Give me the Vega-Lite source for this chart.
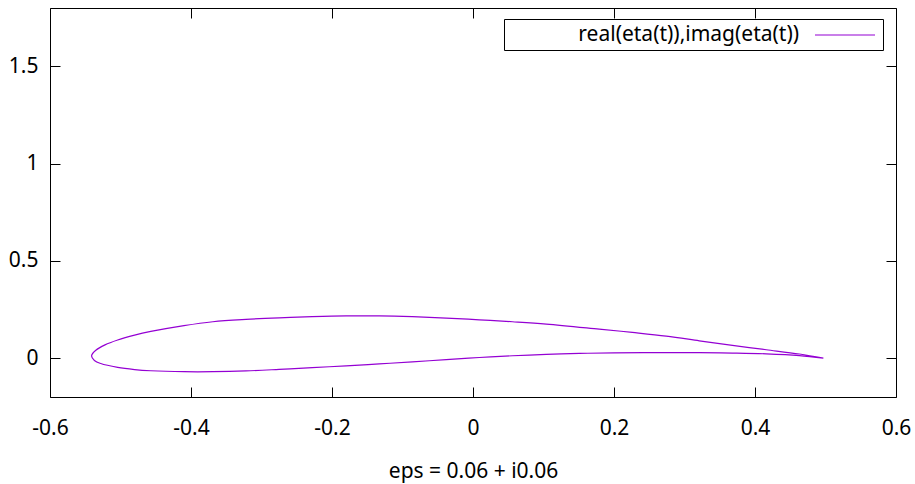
{
  "$schema": "https://vega.github.io/schema/vega-lite/v6.json",
  "width": 846,
  "height": 389,
  "autosize": {"type": "none"},
  "padding": {"left": 50, "top": 8, "right": 19, "bottom": 87},
  "background": "white",
  "config": {
    "view": {"stroke": "black", "strokeWidth": 1},
    "font": "Noto Sans",
    "axis": {"grid": false, "domain": false, "tickColor": "black", "tickWidth": 1, "labelFlush": false,
             "labelFont": "Noto Sans", "labelFontSize": 21, "labelColor": "black",
             "titleFont": "Noto Sans", "titleFontSize": 21, "titleFontWeight": "normal", "titleColor": "black"}
  },
  "data": {"values": [
    {"i": 0, "x": 0.497, "y": 0.0, "s": "real(eta(t)),imag(eta(t))"},
    {"i": 1, "x": 0.463, "y": 0.021, "s": "real(eta(t)),imag(eta(t))"},
    {"i": 2, "x": 0.416, "y": 0.043, "s": "real(eta(t)),imag(eta(t))"},
    {"i": 3, "x": 0.368, "y": 0.065, "s": "real(eta(t)),imag(eta(t))"},
    {"i": 4, "x": 0.321, "y": 0.089, "s": "real(eta(t)),imag(eta(t))"},
    {"i": 5, "x": 0.274, "y": 0.113, "s": "real(eta(t)),imag(eta(t))"},
    {"i": 6, "x": 0.226, "y": 0.132, "s": "real(eta(t)),imag(eta(t))"},
    {"i": 7, "x": 0.179, "y": 0.149, "s": "real(eta(t)),imag(eta(t))"},
    {"i": 8, "x": 0.104, "y": 0.175, "s": "real(eta(t)),imag(eta(t))"},
    {"i": 9, "x": 0.056, "y": 0.187, "s": "real(eta(t)),imag(eta(t))"},
    {"i": 10, "x": 0.009, "y": 0.197, "s": "real(eta(t)),imag(eta(t))"},
    {"i": 11, "x": -0.038, "y": 0.206, "s": "real(eta(t)),imag(eta(t))"},
    {"i": 12, "x": -0.086, "y": 0.213, "s": "real(eta(t)),imag(eta(t))"},
    {"i": 13, "x": -0.133, "y": 0.217, "s": "real(eta(t)),imag(eta(t))"},
    {"i": 14, "x": -0.180, "y": 0.217, "s": "real(eta(t)),imag(eta(t))"},
    {"i": 15, "x": -0.228, "y": 0.213, "s": "real(eta(t)),imag(eta(t))"},
    {"i": 16, "x": -0.275, "y": 0.207, "s": "real(eta(t)),imag(eta(t))"},
    {"i": 17, "x": -0.322, "y": 0.199, "s": "real(eta(t)),imag(eta(t))"},
    {"i": 18, "x": -0.369, "y": 0.187, "s": "real(eta(t)),imag(eta(t))"},
    {"i": 19, "x": -0.410, "y": 0.167, "s": "real(eta(t)),imag(eta(t))"},
    {"i": 20, "x": -0.457, "y": 0.137, "s": "real(eta(t)),imag(eta(t))"},
    {"i": 21, "x": -0.480, "y": 0.118, "s": "real(eta(t)),imag(eta(t))"},
    {"i": 22, "x": -0.504, "y": 0.093, "s": "real(eta(t)),imag(eta(t))"},
    {"i": 23, "x": -0.522, "y": 0.068, "s": "real(eta(t)),imag(eta(t))"},
    {"i": 24, "x": -0.535, "y": 0.040, "s": "real(eta(t)),imag(eta(t))"},
    {"i": 25, "x": -0.541, "y": 0.012, "s": "real(eta(t)),imag(eta(t))"},
    {"i": 26, "x": -0.537, "y": -0.012, "s": "real(eta(t)),imag(eta(t))"},
    {"i": 27, "x": -0.528, "y": -0.028, "s": "real(eta(t)),imag(eta(t))"},
    {"i": 28, "x": -0.504, "y": -0.048, "s": "real(eta(t)),imag(eta(t))"},
    {"i": 29, "x": -0.480, "y": -0.059, "s": "real(eta(t)),imag(eta(t))"},
    {"i": 30, "x": -0.457, "y": -0.065, "s": "real(eta(t)),imag(eta(t))"},
    {"i": 31, "x": -0.410, "y": -0.070, "s": "real(eta(t)),imag(eta(t))"},
    {"i": 32, "x": -0.369, "y": -0.070, "s": "real(eta(t)),imag(eta(t))"},
    {"i": 33, "x": -0.322, "y": -0.066, "s": "real(eta(t)),imag(eta(t))"},
    {"i": 34, "x": -0.275, "y": -0.058, "s": "real(eta(t)),imag(eta(t))"},
    {"i": 35, "x": -0.228, "y": -0.049, "s": "real(eta(t)),imag(eta(t))"},
    {"i": 36, "x": -0.180, "y": -0.040, "s": "real(eta(t)),imag(eta(t))"},
    {"i": 37, "x": -0.133, "y": -0.030, "s": "real(eta(t)),imag(eta(t))"},
    {"i": 38, "x": -0.086, "y": -0.019, "s": "real(eta(t)),imag(eta(t))"},
    {"i": 39, "x": -0.038, "y": -0.008, "s": "real(eta(t)),imag(eta(t))"},
    {"i": 40, "x": 0.009, "y": 0.003, "s": "real(eta(t)),imag(eta(t))"},
    {"i": 41, "x": 0.056, "y": 0.012, "s": "real(eta(t)),imag(eta(t))"},
    {"i": 42, "x": 0.104, "y": 0.019, "s": "real(eta(t)),imag(eta(t))"},
    {"i": 43, "x": 0.151, "y": 0.024, "s": "real(eta(t)),imag(eta(t))"},
    {"i": 44, "x": 0.200, "y": 0.027, "s": "real(eta(t)),imag(eta(t))"},
    {"i": 45, "x": 0.260, "y": 0.028, "s": "real(eta(t)),imag(eta(t))"},
    {"i": 46, "x": 0.321, "y": 0.028, "s": "real(eta(t)),imag(eta(t))"},
    {"i": 47, "x": 0.368, "y": 0.026, "s": "real(eta(t)),imag(eta(t))"},
    {"i": 48, "x": 0.416, "y": 0.022, "s": "real(eta(t)),imag(eta(t))"},
    {"i": 49, "x": 0.463, "y": 0.013, "s": "real(eta(t)),imag(eta(t))"},
    {"i": 50, "x": 0.497, "y": 0.0, "s": "real(eta(t)),imag(eta(t))"}
  ]},
  "layer": [
    {
      "mark": {"type": "line", "interpolate": "catmull-rom", "strokeWidth": 1.2},
      "encoding": {
        "x": {"field": "x", "type": "quantitative", "scale": {"domain": [-0.6, 0.6], "nice": false, "zero": false},
              "axis": {"orient": "bottom", "values": [-0.6, -0.4, -0.2, 0, 0.2, 0.4, 0.6], "labelExpr": "'' + datum.value",
                       "ticks": false, "labelPadding": 20, "title": "eps = 0.06 + i0.06", "titlePadding": 22}},
        "y": {"field": "y", "type": "quantitative", "scale": {"domain": [-0.2, 1.8], "nice": false, "zero": false},
              "axis": {"orient": "left", "values": [0, 0.5, 1, 1.5], "labelExpr": "'' + datum.value", "ticks": false,
                       "labelPadding": 12, "title": null}},
        "order": {"field": "i", "type": "quantitative"},
        "color": {"field": "s", "type": "nominal", "scale": {"range": ["#9400d3"]},
                  "legend": {"orient": "none", "legendX": 454, "legendY": 11, "title": null,
                             "strokeColor": "black", "padding": 5, "fillColor": "white",
                             "symbolType": "M-3,0H3", "symbolSize": 400, "symbolStrokeWidth": 1.2,
                             "symbolOffset": 325, "labelOffset": -57, "labelAlign": "right",
                             "labelLimit": 500, "labelFont": "Noto Sans", "labelFontSize": 21, "labelColor": "black"}}
      }
    },
    {
      "mark": {"type": "line", "opacity": 0},
      "encoding": {
        "x": {"field": "x", "type": "quantitative",
              "axis": {"orient": "top", "values": [-0.6, -0.4, -0.2, 0, 0.2, 0.4, 0.6], "labels": false, "tickSize": 10, "offset": -10, "title": null}},
        "y": {"field": "y", "type": "quantitative",
              "axis": {"orient": "right", "values": [0, 0.5, 1, 1.5], "labels": false, "tickSize": 10, "offset": -10, "title": null}},
        "order": {"field": "i", "type": "quantitative"}
      }
    },
    {
      "mark": {"type": "line", "opacity": 0},
      "encoding": {
        "x": {"field": "x", "type": "quantitative",
              "axis": {"orient": "bottom", "values": [-0.6, -0.4, -0.2, 0, 0.2, 0.4, 0.6], "labels": false, "tickSize": 10, "offset": -10, "title": null}},
        "y": {"field": "y", "type": "quantitative",
              "axis": {"orient": "left", "values": [0, 0.5, 1, 1.5], "labels": false, "tickSize": 10, "offset": -10, "title": null}},
        "order": {"field": "i", "type": "quantitative"}
      }
    }
  ],
  "resolve": {"axis": {"x": "independent", "y": "independent"}}
}
